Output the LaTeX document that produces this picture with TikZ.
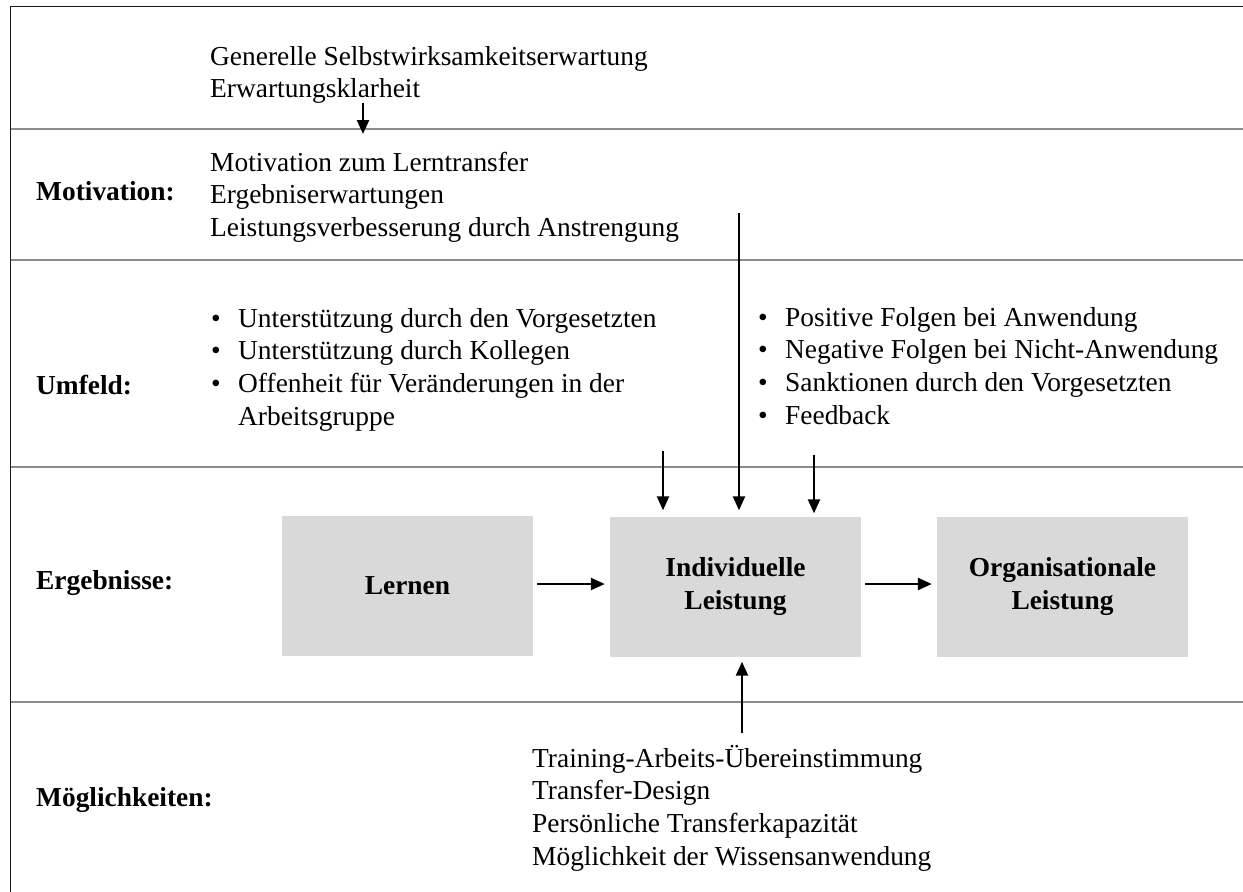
\documentclass[tikz,border=0pt]{standalone}
\usepackage{fontspec}
\setmainfont{Liberation Serif}
\usetikzlibrary{arrows.meta}
\definecolor{boxgray}{HTML}{D9D9D9}
\definecolor{rulegray}{HTML}{8C8C8C}
\newcommand\bulletitem{\makebox[27pt][l]{\textbullet}}
% fixed height of the first line, so a block's top lies 24pt above its first baseline
\newcommand\firstline{\rule{0pt}{24pt}}
\begin{document}
\begin{tikzpicture}[x=1pt,y=-1pt,
  txt/.style={anchor=north west, inner sep=0pt, align=left,
              font=\fontsize{27.4}{32.6}\selectfont},
  lbl/.style={anchor=base west, inner sep=0pt, font=\fontsize{27.4}{32.6}\selectfont\bfseries},
  result/.style={fill=boxgray, minimum width=251pt, minimum height=140pt, inner sep=0pt,
                 align=center, font=\fontsize{27.4}{33}\selectfont\bfseries},
  arr/.style={line width=2.4pt, -{Triangle[length=14pt,width=12pt]}},
  rule/.style={draw=rulegray, line width=1.3pt},
  frame/.style={draw=black!90, line width=1.8pt}]
\useasboundingbox (0,0) rectangle (1243,892);

% frame and row separators
\draw[frame] (10.5,892) -- (10.5,6.5) -- (1243,6.5);
\foreach \yy in {129,260,467,702}
  \draw[rule] (10.5,\yy) -- (1243,\yy);

% row labels
\node[lbl] (lmot) at (36,200) {Motivation:};
\node[lbl] (lumf) at (36,394) {Umfeld:};
\node[lbl] (lerg) at (36,589) {Ergebnisse:};
\node[lbl] (lmog) at (36,806) {Möglichkeiten:};

% text blocks
\node[txt] (pers) at (210,41) {\firstline Generelle Selbstwirksamkeitserwartung\\Erwartungsklarheit};
\node[txt] (motv) at (210,147) {\firstline Motivation zum Lerntransfer\\Ergebniserwartungen\\Leistungsverbesserung durch Anstrengung};
\node[txt] (envl) at (211,303) {\firstline\bulletitem Unterstützung durch den Vorgesetzten\\
  \bulletitem Unterstützung durch Kollegen\\
  \bulletitem Offenheit für Veränderungen in der\\
  \hspace*{27pt}Arbeitsgruppe};
\node[txt] (envr) at (758,302) {\firstline\bulletitem Positive Folgen bei Anwendung\\
  \bulletitem Negative Folgen bei Nicht-Anwendung\\
  \bulletitem Sanktionen durch den Vorgesetzten\\
  \bulletitem Feedback};
\node[txt] (opp) at (532,743) {\firstline Training-Arbeits-Übereinstimmung\\Transfer-Design\\Persönliche Transferkapazität\\Möglichkeit der Wissensanwendung};

% outcome boxes
\node[result] (lern) at (407.5,586) {Lernen};
\node[result] (indiv) at (735.5,586.5) {Individuelle\\Leistung};
\node[result] (org) at (1062.5,586.5) {Organisationale\\Leistung};

% free ends of the connectors
\coordinate (ps) at (363,103);
\coordinate (pe) at (363,134);
\coordinate (ls) at (663,451);
\coordinate (ms) at (739,213);
\coordinate (rs) at (814,455);
\coordinate (bs) at (742,733);

% connectors
\draw[arr] (ps) -- (pe);
\draw[arr, shorten >=6pt] (ls) -- (ls |- indiv.north);
\draw[arr, shorten >=6pt] (ms) -- (ms |- indiv.north);
\draw[arr, shorten >=3pt] (rs) -- (rs |- indiv.north);
\draw[arr, shorten >=5pt] (bs) -- (bs |- indiv.south);
\draw[arr, shorten <=4pt, shorten >=5pt] (lern.east |- 0,584) -- (indiv.west |- 0,584);
\draw[arr, shorten <=4pt, shorten >=5pt] (indiv.east |- 0,584) -- (org.west |- 0,584);
\end{tikzpicture}
\end{document}
